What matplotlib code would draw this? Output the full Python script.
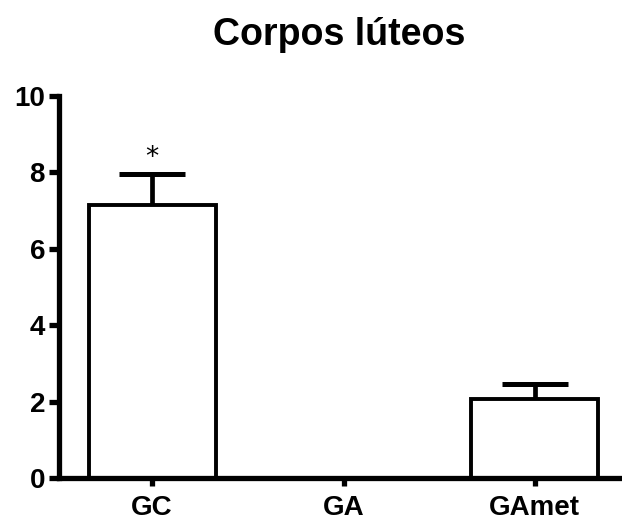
import matplotlib
matplotlib.use("Agg")
import matplotlib.pyplot as plt

plt.rcParams['font.family'] = ['Liberation Sans', 'DejaVu Sans']

groups = ["GC", "GA", "GAmet"]
means = [7.15, 0.0, 2.06]
errors = [0.80, 0.0, 0.40]
significance = ["*", "", ""]
yticks = [0, 2, 4, 6, 8, 10]

fig = plt.figure(figsize=(6.22, 5.2), dpi=100)
ax = fig.add_axes([59 / 622, 42 / 520, (620 - 59) / 622, (478 - 96) / 520])

x = list(range(len(groups)))
ax.bar(x, means, width=0.665, color="white", edgecolor="black", linewidth=2.8, zorder=2)
for xi, m, e in zip(x, means, errors):
    if e > 0:
        _, caps, _ = ax.errorbar(xi, m, yerr=[[0], [e]], fmt="none", ecolor="black",
                                 elinewidth=3.4, capsize=24, capthick=3.6, zorder=1)
        # keep only the upper cap
        caps[0].remove()
for xi, m, e, s in zip(x, means, errors, significance):
    if s:
        ax.text(xi, m + e + 0.09, s, ha="center", va="bottom",
                fontsize=19, family="DejaVu Sans")

ax.set_xlim(-0.487, 2.445)
ax.set_ylim(0, 10)
ax.set_yticks(yticks)
ax.set_yticklabels([str(t) for t in yticks])
ax.set_xticks(x)
ax.set_xticklabels(groups)

for side in ("top", "right"):
    ax.spines[side].set_visible(False)
for side in ("left", "bottom"):
    ax.spines[side].set_linewidth(3.8)
ax.tick_params(axis="both", width=3.8, direction="out", labelsize=20)
ax.tick_params(axis="y", length=7, pad=3)
ax.tick_params(axis="x", length=6, pad=6)
for lab in ax.get_xticklabels() + ax.get_yticklabels():
    lab.set_fontweight("bold")

ax.set_title("Corpos lúteos", fontsize=27, fontweight="bold", pad=37)

fig.savefig("out.png", dpi=100)
